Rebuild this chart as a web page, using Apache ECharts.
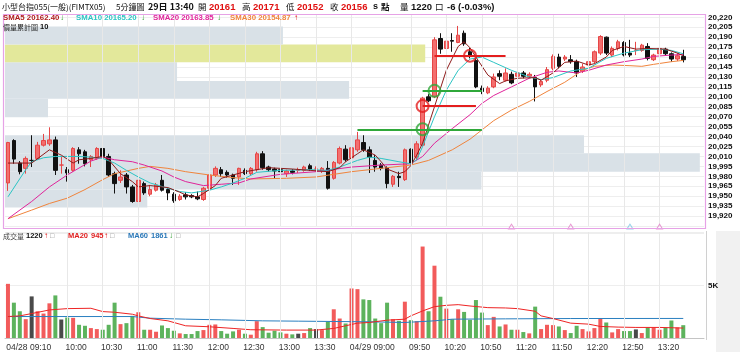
<!DOCTYPE html>
<html>
<head>
<meta charset="utf-8">
<script src="https://cdn.jsdelivr.net/npm/echarts@6/dist/echarts.min.js"></script>
<style>
html, body { margin: 0; padding: 0; background: #fff; }
#main { width: 740px; height: 352px; }
</style>
</head>
<body>
<div id="main"></div>
<script>
'use strict';
/**
 * 小型台指 5分鐘 K線 + 價量累計圖 + 成交量
 */

// K線 (開 高 低 收)
var opens = [19970, 20034, 20000, 19992, 20004, 20007, 20027, 20029, 20035, 19997,
    19990, 19989, 20020, 20017, 20005, 20007, 20022, 20010, 19984, 19974,
    19982, 19964, 19942, 19969, 19953, 19959, 19974, 19960, 19953, 19945,
    19952, 19951, 19949, 19945, 19962, 19982, 19990, 19986, 19982, 19979,
    19989, 19984, 19990, 20014, 19994, 19991, 19990, 19984, 19988, 19989,
    19989, 19996, 19991, 19988, 19992, 19977, 20000, 20021, 20008, 20020,
    20031, 20020, 20004, 19997, 19992, 19968, 19980, 19975, 20021, 20009,
    20027, 20100, 20100, 20188, 20173, 20185, 20182, 20196, 20168, 20155,
    20113, 20106, 20115, 20135, 20125, 20134, 20131, 20136, 20131, 20129,
    20118, 20125, 20143, 20160, 20157, 20156, 20153, 20139, 20148, 20153,
    20166, 20190, 20163, 20173, 20182, 20166, 20170, 20170, 20176, 20156,
    20165, 20172, 20165, 20157, 20161];
var highs = [20032, 20036, 20003, 20010, 20042, 20032, 20044, 20054, 20040, 20010,
    19994, 20024, 20024, 20020, 20012, 20024, 20026, 20014, 19987, 19989,
    19985, 19967, 19976, 19972, 19967, 19970, 19982, 19962, 19956, 19953,
    19956, 19953, 19957, 19964, 19985, 19995, 19994, 19989, 19984, 19993,
    19992, 19994, 20017, 20018, 19996, 19993, 19993, 19990, 19991, 19993,
    19996, 19999, 19995, 19994, 20003, 20003, 20025, 20027, 20027, 20047,
    20042, 20025, 20012, 20000, 19995, 19982, 19987, 20022, 20022, 20033,
    20100, 20104, 20190, 20196, 20188, 20196, 20207, 20200, 20174, 20158,
    20117, 20116, 20135, 20140, 20143, 20138, 20140, 20139, 20137, 20133,
    20126, 20145, 20164, 20165, 20163, 20163, 20156, 20150, 20156, 20170,
    20193, 20191, 20176, 20186, 20184, 20186, 20183, 20180, 20181, 20165,
    20175, 20174, 20167, 20166, 20171];
var lows = [19958, 19999, 19983, 19984, 19994, 20005, 20025, 20026, 19982, 19984,
    19972, 19987, 19999, 19995, 19994, 20005, 20007, 19979, 19954, 19970,
    19954, 19940, 19933, 19952, 19950, 19957, 19957, 19944, 19940, 19943,
    19945, 19947, 19944, 19943, 19960, 19979, 19979, 19978, 19967, 19967,
    19982, 19982, 19987, 19990, 19987, 19977, 19984, 19979, 19983, 19985,
    19987, 19988, 19987, 19985, 19960, 19975, 19998, 20002, 19980, 20017,
    20017, 19985, 19987, 19989, 19962, 19964, 19964, 19973, 19998, 20005,
    20025, 20092, 20098, 20165, 20170, 20168, 20181, 20177, 20158, 20113,
    20104, 20104, 20113, 20125, 20123, 20119, 20128, 20128, 20128, 20093,
    20115, 20122, 20140, 20143, 20154, 20150, 20130, 20136, 20144, 20150,
    20163, 20163, 20160, 20170, 20161, 20160, 20163, 20168, 20155, 20154,
    20155, 20162, 20153, 20154, 20152];
var closes = [20031, 20006, 19987, 20007, 20004, 20027, 20034, 20035, 19989, 19997,
    19985, 20022, 20014, 19999, 20010, 20022, 20010, 19982, 19969, 19979,
    19964, 19942, 19974, 19955, 19960, 19967, 19959, 19955, 19943, 19950,
    19949, 19949, 19946, 19962, 19982, 19992, 19984, 19982, 19977, 19992,
    19984, 19992, 20014, 19993, 19990, 19988, 19987, 19988, 19986, 19989,
    19994, 19991, 19991, 19992, 19962, 20001, 20022, 20005, 20023, 20035,
    20020, 20009, 19994, 19992, 19969, 19980, 19978, 20020, 20000, 20029,
    20098, 20094, 20186, 20172, 20184, 20184, 20193, 20180, 20161, 20115,
    20108, 20113, 20130, 20131, 20136, 20121, 20136, 20131, 20134, 20115,
    20123, 20141, 20161, 20146, 20160, 20153, 20136, 20145, 20153, 20168,
    20191, 20166, 20173, 20183, 20163, 20163, 20170, 20178, 20158, 20163,
    20173, 20165, 20157, 20162, 20156];

// 成交量
var volumes = [5155, 3363, 2546, 1791, 3960, 2546, 2326, 3300, 4054, 1760,
    1949, 1917, 1257, 1163, 943, 849, 786, 1257, 3363, 1320,
    1414, 2106, 2452, 786, 786, 597, 1194, 943, 691, 440,
    377, 377, 660, 754, 1257, 1289, 660, 409, 629, 786,
    409, 314, 1603, 1037, 503, 691, 534, 409, 346, 409,
    471, 943, 849, 754, 1540, 2734, 1854, 1383, 4714, 4651,
    3677, 3614, 1854, 1414, 3363, 1791, 1634, 3457, 1697, 1603,
    8706, 2546, 6883, 3929, 2797, 1791, 2734, 2483, 1729, 3614,
    2420, 1226, 2011, 1100, 1289, 786, 786, 566, 440, 2986,
    849, 1257, 1226, 1100, 754, 471, 1163, 849, 629, 943,
    1854, 1477, 534, 849, 660, 660, 817, 471, 1006, 1006,
    786, 1006, 1666, 1006, 1220];

// 均線 [bar index, value]
var sma5 = [[0, 20000], [4, 20000], [7, 20020], [9, 20012], [11, 20000], [12, 20005], [14, 20007], [16, 20010],
    [17, 20005], [19, 19984], [21, 19972], [22, 19964], [24, 19966], [27, 19963], [29, 19956], [30, 19952],
    [32, 19949], [33, 19954], [35, 19966], [36, 19977], [38, 19982], [40, 19987], [44, 19993], [48, 19991],
    [51, 19989], [54, 19987], [56, 19993], [57, 20002], [59, 20014], [60, 20020], [62, 20012], [63, 20002],
    [64, 19991], [66, 19984], [67, 19987], [68, 19996], [69, 20012], [70, 20030], [72, 20085], [74, 20140],
    [76, 20176], [77, 20183], [78, 20174], [79, 20160], [81, 20133], [83, 20120], [84, 20124], [86, 20128],
    [89, 20129], [90, 20125], [92, 20136], [94, 20152], [96, 20154], [98, 20148], [99, 20150], [101, 20160],
    [102, 20170], [104, 20176], [106, 20172], [108, 20173], [111, 20172], [113, 20166], [114, 20162]];
var sma10 = [[0, 19949], [3, 19990], [4, 20002], [6, 20008], [8, 20010], [12, 20010], [14, 20009], [16, 20007],
    [18, 20000], [20, 19989], [22, 19979], [24, 19970], [27, 19962], [29, 19957], [31, 19955], [34, 19959],
    [36, 19964], [38, 19970], [40, 19977], [42, 19986], [46, 19989], [51, 19990], [54, 19989], [56, 19994],
    [59, 20004], [61, 20009], [63, 20007], [66, 20002], [68, 19999], [69, 20005], [70, 20025], [72, 20070],
    [74, 20110], [76, 20140], [78, 20157], [80, 20160], [82, 20152], [85, 20140], [88, 20130], [90, 20126],
    [92, 20129], [95, 20139], [98, 20143], [101, 20158], [104, 20166], [107, 20171], [110, 20172], [112, 20170],
    [114, 20165]];
var sma20 = [[0, 19916], [4, 19942], [7, 19964], [10, 19982], [14, 20003], [16, 20009], [18, 20005], [21, 20002],
    [23, 19997], [26, 19988], [28, 19979], [30, 19972], [33, 19966], [36, 19968], [39, 19970], [41, 19976],
    [46, 19983], [52, 19987], [58, 19994], [63, 19997], [68, 19999], [70, 20010], [72, 20030], [75, 20052],
    [78, 20073], [80, 20090], [82, 20102], [85, 20115], [88, 20128], [91, 20137], [93, 20139], [96, 20136],
    [98, 20140], [101, 20148], [104, 20153], [107, 20157], [109, 20161], [112, 20163], [114, 20164]];
var sma30 = [[0, 19916], [4, 19929], [7, 19939], [10, 19947], [13, 19960], [16, 19975], [18, 19984], [22, 19992],
    [24, 19995], [27, 19992], [30, 19987], [34, 19982], [38, 19978], [41, 19976], [47, 19977], [52, 19979],
    [58, 19987], [63, 19992], [68, 19997], [71, 20004], [75, 20020], [78, 20036], [80, 20050], [82, 20064],
    [85, 20080], [88, 20093], [91, 20108], [94, 20122], [97, 20140], [99, 20146], [102, 20148], [105, 20147],
    [107, 20146], [109, 20149], [112, 20153], [114, 20155]];

// 成交量均線
var volMa20 = [[0, 2043], [2, 2106], [4, 2326], [7, 2671], [10, 2797], [14, 2829], [16, 2514], [18, 2452],
    [21, 2263], [22, 2106], [24, 1854], [27, 1634], [30, 1163], [34, 1069], [38, 911], [41, 786], [47, 754],
    [52, 754], [55, 911], [57, 1163], [59, 1414], [61, 1477], [64, 1697], [67, 1791], [68, 2106], [70, 2577],
    [72, 2986], [74, 3111], [76, 3174], [78, 3049], [81, 2891], [84, 2860], [86, 2797], [89, 2546], [90, 2106],
    [92, 1854], [95, 1414], [98, 1320], [100, 1100], [103, 1037], [106, 1006], [110, 1006], [114, 945]];
var volMa60 = [[0, 2043], [21, 2043], [24, 1886], [30, 1791], [36, 1729], [43, 1634], [49, 1603], [55, 1571],
    [61, 1540], [67, 1477], [72, 1634], [75, 1791], [84, 1823], [95, 1854], [114, 1861]];

// 價量累計圖 (10 區間)
var profileEdges = [19933, 19960, 19987, 20015, 20042, 20069, 20097, 20124, 20152, 20179, 20206];
var profileVol = [4300, 14400, 21000, 17500, 0, 1300, 10400, 5200, 12700, 8400];

// 訊號: 圓圈 [index, price, 1=紅 0=綠] 與水平線 [from, to, price, 1=紅 0=綠]
var signalDots = [[70, 20051, 0], [70, 20086, 1], [72, 20109, 0], [78, 20162, 1]];
var signalLines = [[59, 80, 20051, 0], [70, 79, 20086, 1], [70, 80, 20109, 0], [72, 84, 20162, 1]];
var signalMarks = [[85, 1], [95, 1], [105, 0], [110, 1]];

// 時間軸標籤
var tickLabels = [[3, '04/28 09:10'], [11, '10:00'], [17, '10:30'], [23, '11:00'], [29, '11:30'], [35, '12:00'],
    [41, '12:30'], [47, '13:00'], [53, '13:30'], [61, '04/29 09:00'], [69, '09:50'], [75, '10:20'],
    [81, '10:50'], [87, '11:20'], [93, '11:50'], [99, '12:20'], [105, '12:50'], [111, '13:20']];
var gridTicks = [10, 16, 22, 28, 34, 40, 46, 52, 58, 68, 74, 80, 86, 92, 98, 104, 110];

function pad(n) { return (n < 10 ? '0' : '') + n; }
function makeTimes(day, start, count) {
    var out = [];
    for (var k = 0; k < count; k++) {
        var t = start + 5 * k;
        out.push(day + ' ' + pad(Math.floor(t / 60)) + ':' + pad(t % 60));
    }
    return out;
}
var categories = makeTimes('04/28', 8 * 60 + 55, 58).concat(makeTimes('04/29', 8 * 60 + 45, 60));

var labelMap = {};
tickLabels.forEach(function (t) { labelMap[t[0]] = t[1]; });

var UP = '#f36f6f', UP_LINE = '#e64646', DOWN = '#111111';
var V_UP = '#f25b5b', V_DOWN = '#5db35d', V_FLAT = '#4a4a4a';

var kData = opens.map(function (o, i) { return [o, closes[i], lows[i], highs[i]]; });
var volData = volumes.map(function (v, i) {
    var c = closes[i] > opens[i] ? V_UP : (closes[i] < opens[i] ? V_DOWN : V_FLAT);
    return { value: v, itemStyle: { color: c } };
});
var lastClose = closes[closes.length - 1];
var profileData = profileVol.map(function (v, i) {
    return [v, profileEdges[i], profileEdges[i + 1]];
});

var CJK = '"Noto Sans CJK TC", sans-serif';
var LAT = '"Liberation Sans", Arial, sans-serif';
function txt(x, y, s, color, font) {
    return {
        type: 'text', x: x, y: y, silent: true, z: 50,
        style: { text: s, fill: color, font: font, verticalAlign: 'middle' }
    };
}

var texts = [
    txt(2, 7, '小型台指055(一般)(FIMTX05)', '#111', '8px ' + CJK),
    txt(116, 7, '5分鐘圖', '#111', '8px ' + CJK),
    txt(148, 7, '29日 13:40', '#111', 'bold 9px ' + CJK),
    txt(198, 7, '開', '#111', '8.5px ' + CJK),
    txt(209, 7, '20161', '#e01010', 'bold 9.5px ' + LAT),
    txt(242, 7, '高', '#111', '8.5px ' + CJK),
    txt(253, 7, '20171', '#e01010', 'bold 9.5px ' + LAT),
    txt(286, 7, '低', '#111', '8.5px ' + CJK),
    txt(297, 7, '20152', '#e01010', 'bold 9.5px ' + LAT),
    txt(330, 7, '收', '#111', '8.5px ' + CJK),
    txt(341, 7, '20156', '#e01010', 'bold 9.5px ' + LAT),
    txt(373, 7, 's', '#111', 'bold 9px ' + LAT),
    txt(381, 7, '點', '#111', 'bold 8.5px ' + CJK),
    txt(400, 7, '量', '#111', '8.5px ' + CJK),
    txt(411, 7, '1220', '#111', 'bold 9.5px ' + LAT),
    txt(435, 7, '口', '#111', '8.5px ' + CJK),
    txt(447, 7, '-6 (-0.03%)', '#111', 'bold 9.5px ' + LAT),

    txt(3, 18, 'SMA5 20162.40', '#b01c1c', 'bold 7.8px ' + LAT),
    txt(60, 18, '↓', '#2a9a2a', 'bold 8px ' + LAT),
    txt(76, 18, 'SMA10 20165.20', '#2cc4c4', 'bold 7.8px ' + LAT),
    txt(141, 18, '↓', '#2a9a2a', 'bold 8px ' + LAT),
    txt(153, 18, 'SMA20 20163.85', '#e0249a', 'bold 7.8px ' + LAT),
    txt(217, 18, '↓', '#2a9a2a', 'bold 8px ' + LAT),
    txt(230, 18, 'SMA30 20154.87', '#f0843c', 'bold 7.8px ' + LAT),
    txt(294, 18, '↑', '#e01010', 'bold 8px ' + LAT),
    txt(3, 27, '價量累計圖', '#222', '7px ' + CJK),
    txt(40, 27, '10', '#111', 'bold 7.5px ' + LAT),

    txt(3, 236, '成交量', '#444', '7px ' + CJK),
    txt(26, 236, '1220', '#111', 'bold 7.5px ' + LAT),
    txt(44, 236, '↑', '#e01010', 'bold 8px ' + LAT),
    txt(50, 236, '□', '#888', '7px ' + LAT),
    txt(68, 236, 'MA20', '#e02020', 'bold 7.5px ' + LAT),
    txt(91, 236, '945', '#e02020', 'bold 7.5px ' + LAT),
    txt(104, 236, '↑', '#e01010', 'bold 8px ' + LAT),
    txt(110, 236, '□', '#888', '7px ' + LAT),
    txt(128, 236, 'MA60', '#2a78b8', 'bold 7.5px ' + LAT),
    txt(151, 236, '1861', '#2a78b8', 'bold 7.5px ' + LAT),
    txt(169, 236, '↓', '#2a9a2a', 'bold 8px ' + LAT),
    txt(176, 236, '□', '#888', '7px ' + LAT)
];

var frame = [
    {
        type: 'rect', silent: true, z: 40,
        shape: { x: 3.5, y: 14.5, width: 702, height: 214 },
        style: { fill: 'none', stroke: '#e6a2e6', lineWidth: 1.2 }
    },
    {
        type: 'rect', silent: true, z: 0,
        shape: { x: 716, y: 231, width: 24, height: 121 },
        style: { fill: '#f1f1f1' }
    },
    {
        type: 'line', silent: true, z: 40,
        shape: { x1: 706.5, y1: 231, x2: 706.5, y2: 340 },
        style: { stroke: '#d0d0d0', lineWidth: 1 }
    }
];

function gridLineSeries(xi, yi) {
    return {
        type: 'line', xAxisIndex: xi, yAxisIndex: yi, data: [], silent: true, z: 0,
        markLine: {
            silent: true, symbol: 'none', label: { show: false }, animation: false,
            lineStyle: { color: '#e8e8e8', type: 'solid', width: 1 },
            data: gridTicks.map(function (i) { return { xAxis: i }; })
        }
    };
}

function maLine(name, data, color, xi, yi) {
    return {
        name: name, type: 'line', xAxisIndex: xi, yAxisIndex: yi, data: data,
        showSymbol: false, silent: true, z: 4,
        lineStyle: { color: color, width: 1 }
    };
}

var myChart = echarts.init(document.getElementById('main'));
var option = {
    animation: false,
    backgroundColor: '#ffffff',
    grid: [
        { left: 5, right: 36, top: 14, height: 212 },
        { left: 5, right: 36, top: 232, height: 107 }
    ],
    xAxis: [
        {
            type: 'category', gridIndex: 0, data: categories,
            axisLine: { show: false }, axisTick: { show: false },
            axisLabel: { show: false }, splitLine: { show: false }
        },
        {
            type: 'value', gridIndex: 0, show: false, min: 0,
            max: function (v) { return v.max * 1.006; }
        },
        {
            type: 'category', gridIndex: 1, data: categories,
            axisLine: { lineStyle: { color: '#c4c4c4' } }, axisTick: { show: false },
            splitLine: { show: false },
            axisLabel: {
                interval: function (idx) { return labelMap[idx] !== undefined; },
                formatter: function (val, idx) { return labelMap[idx] || ''; },
                fontSize: 8.5, fontFamily: LAT, color: '#333', margin: 5,
                padding: [0, 0, 0, 6]
            }
        }
    ],
    yAxis: [
        {
            type: 'value', gridIndex: 0, position: 'right',
            min: 19905, max: 20225, interval: 15,
            axisLine: { show: false }, axisTick: { show: false },
            axisLabel: {
                showMinLabel: false, showMaxLabel: false, align: 'left', margin: 4,
                fontSize: 8, fontWeight: 'bold', fontFamily: LAT, color: '#111'
            },
            splitLine: { lineStyle: { color: '#eeeeee' } }
        },
        {
            type: 'value', gridIndex: 1, position: 'right',
            min: 0, max: 10090, interval: 5000,
            axisLine: { show: false }, axisTick: { show: false },
            axisLabel: {
                formatter: function (v) { return v === 5000 ? '5K' : ''; },
                align: 'left', margin: 4,
                fontSize: 8, fontWeight: 'bold', fontFamily: LAT, color: '#111'
            },
            splitLine: { lineStyle: { color: '#eeeeee' } }
        }
    ],
    graphic: frame.concat(texts),
    series: [
        gridLineSeries(0, 0),
        gridLineSeries(2, 1),
        {
            name: '價量累計圖', type: 'custom', xAxisIndex: 1, yAxisIndex: 0,
            data: profileData, silent: true, z: 1,
            encode: { x: 0, y: [1, 2] },
            renderItem: function (params, api) {
                var p0 = api.coord([0, api.value(2)]);
                var p1 = api.coord([api.value(0), api.value(1)]);
                var hit = lastClose >= api.value(1) && lastClose < api.value(2);
                return {
                    type: 'rect',
                    shape: { x: p0[0], y: p0[1], width: p1[0] - p0[0], height: p1[1] - p0[1] },
                    style: { fill: hit ? '#e3e89b' : '#d9e1e7' }
                };
            }
        },
        {
            name: 'K', type: 'candlestick', xAxisIndex: 0, yAxisIndex: 0,
            data: kData, barWidth: 4, z: 3,
            itemStyle: {
                color: UP, color0: DOWN,
                borderColor: UP_LINE, borderColor0: DOWN, borderWidth: 1
            }
        },
        maLine('SMA30', sma30, '#f0843c', 0, 0),
        maLine('SMA20', sma20, '#e0249a', 0, 0),
        maLine('SMA10', sma10, '#2cc4c4', 0, 0),
        maLine('SMA5', sma5, '#8e1b1b', 0, 0),
        {
            name: 'signal', type: 'scatter', xAxisIndex: 0, yAxisIndex: 0, z: 6,
            symbol: 'circle', symbolSize: 12, silent: true,
            data: signalDots.map(function (d) {
                var c = d[2] ? '#e41e1e' : '#2fa83a';
                return {
                    value: [d[0], d[1]],
                    itemStyle: { color: 'rgba(255,255,255,0)', borderColor: c, borderWidth: 2 }
                };
            }),
            markLine: {
                silent: true, symbol: 'none', label: { show: false }, animation: false,
                data: signalLines.map(function (l) {
                    var c = l[3] ? '#e41e1e' : '#2fa83a';
                    return [
                        { coord: [l[0], l[2]], lineStyle: { color: c, width: 2, type: 'solid' } },
                        { coord: [l[1], l[2]] }
                    ];
                })
            }
        },
        {
            name: 'mark', type: 'scatter', xAxisIndex: 0, yAxisIndex: 0, z: 6,
            symbol: 'triangle', symbolSize: [6, 5], silent: true, clip: false,
            data: signalMarks.map(function (m) {
                return {
                    value: [m[0], 19904],
                    itemStyle: {
                        color: 'rgba(255,255,255,0)', borderWidth: 1,
                        borderColor: m[1] ? '#e27fc8' : '#7cc6e6'
                    }
                };
            })
        },
        {
            name: '成交量', type: 'bar', xAxisIndex: 2, yAxisIndex: 1,
            data: volData, barWidth: 4, z: 3
        },
        maLine('MA60', volMa60, '#2a7fc0', 2, 1),
        maLine('MA20', volMa20, '#ee2424', 2, 1)
    ]
};
myChart.setOption(option);
</script>
</body>
</html>
